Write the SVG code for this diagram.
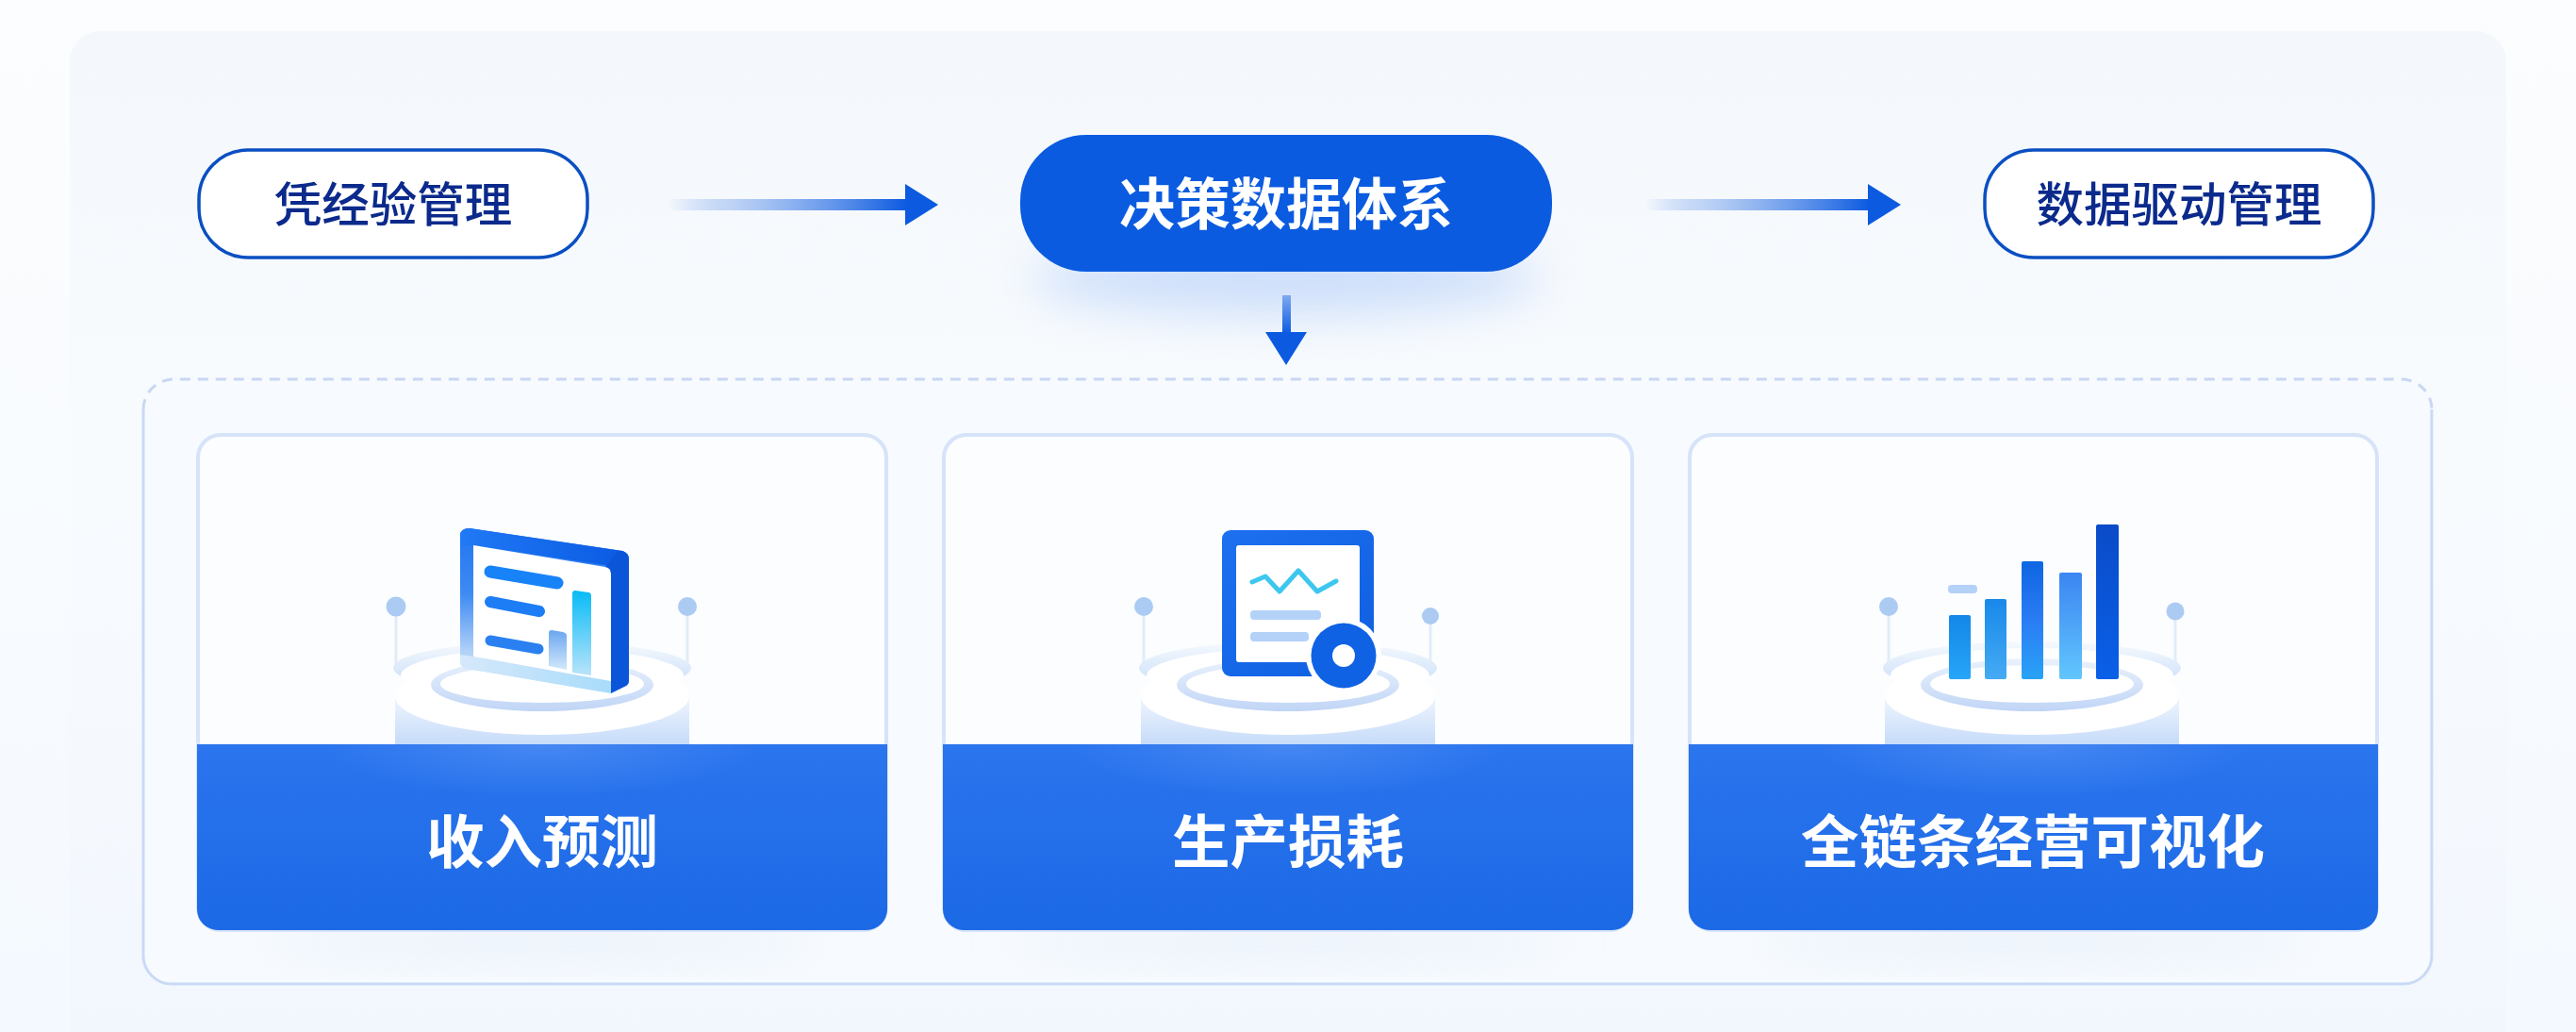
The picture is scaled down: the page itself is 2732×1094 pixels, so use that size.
<svg xmlns="http://www.w3.org/2000/svg" xmlns:xlink="http://www.w3.org/1999/xlink" width="2732" height="1094" viewBox="0 0 2732 1094">
<style>
text{font-family:"Noto Sans CJK SC","Noto Sans",sans-serif;text-anchor:middle}
.pill{fill:#fff;stroke:#0a4fc2;stroke-width:3.5}
.pillt{font-size:50.5px;font-weight:500;fill:#0b2a8c}
.title{font-size:61.5px;font-weight:700;fill:#fff}
.card{fill:#fbfdff;stroke:#d6e3f9;stroke-width:4}
.stem{stroke:#e2ecf9;stroke-width:3;fill:none}
.pin{fill:#abcbf3}
.wh{fill:#fff}
.hl{fill:url(#hi)}
</style>
<defs>
<linearGradient id="bg" x1="0" y1="0" x2="0" y2="1"><stop offset="0" stop-color="#fcfdfe"/><stop offset="1" stop-color="#f4f9ff"/></linearGradient>
<linearGradient id="panel" x1="0" y1="0" x2="0" y2="1"><stop offset="0" stop-color="#f4f7fb"/><stop offset=".4" stop-color="#f8fbfe"/><stop offset="1" stop-color="#f2f7fe"/></linearGradient>
<linearGradient id="arrowH" x1="0" y1="0" x2="1" y2="0"><stop offset="0" stop-color="#0b5ae0" stop-opacity="0"/><stop offset=".25" stop-color="#5d92ea" stop-opacity=".35"/><stop offset="1" stop-color="#0b5ae0"/></linearGradient>
<linearGradient id="arrowV" x1="0" y1="0" x2="0" y2="1"><stop offset="0" stop-color="#7fa9f0"/><stop offset="1" stop-color="#0b5ae0"/></linearGradient>
<linearGradient id="ring" x1="0" y1="0" x2="0" y2="1"><stop offset="0" stop-color="#f6fafe"/><stop offset="1" stop-color="#c3d9f7"/></linearGradient>
<linearGradient id="ring2" x1="0" y1="0" x2="0" y2="1"><stop offset="0" stop-color="#eaf2fc"/><stop offset="1" stop-color="#c0d5f6"/></linearGradient>
<linearGradient id="cyl" x1="0" y1="0" x2="0" y2="1"><stop offset="0" stop-color="#f0f6fe"/><stop offset="1" stop-color="#c6dbf9"/></linearGradient>
<linearGradient id="blue" x1="0" y1="0" x2="0" y2="1"><stop offset="0" stop-color="#2b75ee"/><stop offset="1" stop-color="#1c69e6"/></linearGradient>
<radialGradient id="hi" cx=".5" cy="0" r=".5"><stop offset="0" stop-color="#5b96f6" stop-opacity=".55"/><stop offset="1" stop-color="#5b96f6" stop-opacity="0"/></radialGradient>
<linearGradient id="frameV" x1="0" y1="0" x2="0" y2="1"><stop offset="0" stop-color="#1f74f2"/><stop offset=".4" stop-color="#3f8bf3"/><stop offset=".75" stop-color="#b2d2f8"/><stop offset="1" stop-color="#d6e8fb"/></linearGradient>
<linearGradient id="frameT" x1="0" y1="0" x2="1" y2="0"><stop offset="0" stop-color="#2079f5"/><stop offset="1" stop-color="#0a5ae2"/></linearGradient>
<linearGradient id="frameB" x1="0" y1="0" x2="1" y2="0"><stop offset="0" stop-color="#d6e8fb"/><stop offset="1" stop-color="#a8dcfa"/></linearGradient>
<linearGradient id="b1a" x1="0" y1="0" x2="0" y2="1"><stop offset="0" stop-color="#6aa6ef"/><stop offset="1" stop-color="#d3e8fb"/></linearGradient>
<linearGradient id="b1b" x1="0" y1="0" x2="0" y2="1"><stop offset="0" stop-color="#08bbf6"/><stop offset="1" stop-color="#b9e4fa"/></linearGradient>
<linearGradient id="doc" x1="0" y1="0" x2="1" y2="1"><stop offset="0" stop-color="#1d70f0"/><stop offset="1" stop-color="#0f5fe0"/></linearGradient>
<linearGradient id="k1" x1="0" y1="0" x2="0" y2="1"><stop offset="0" stop-color="#1487e8"/><stop offset="1" stop-color="#26a6f8"/></linearGradient>
<linearGradient id="k2" x1="0" y1="0" x2="0" y2="1"><stop offset="0" stop-color="#1888ea"/><stop offset="1" stop-color="#45abf3"/></linearGradient>
<linearGradient id="k3" x1="0" y1="0" x2="0" y2="1"><stop offset="0" stop-color="#0f66e2"/><stop offset=".5" stop-color="#2a7cf4"/><stop offset="1" stop-color="#29a3f6"/></linearGradient>
<linearGradient id="k4" x1="0" y1="0" x2="0" y2="1"><stop offset="0" stop-color="#3b85f2"/><stop offset="1" stop-color="#62c6fd"/></linearGradient>
<linearGradient id="k5" x1="0" y1="0" x2="0" y2="1"><stop offset="0" stop-color="#0a4bc8"/><stop offset="1" stop-color="#0a60e8"/></linearGradient>
<filter id="blur" x="-30%" y="-60%" width="160%" height="220%"><feGaussianBlur stdDeviation="24"/></filter>
<g id="pedestal">
<ellipse cx="0" cy="708" rx="158" ry="28" fill="url(#ring)"/>
<ellipse cx="0" cy="716" rx="150" ry="29" class="wh"/>
<rect x="-156" y="738" width="312" height="51" fill="url(#cyl)"/>
<ellipse cx="0" cy="738" rx="156" ry="41" class="wh"/>
<ellipse cx="0" cy="726" rx="118" ry="28" fill="url(#ring2)"/>
<ellipse cx="0" cy="725" rx="108" ry="20" class="wh"/>
</g>
</defs>
<rect id="background" width="2732" height="1094" fill="url(#bg)"/>
<rect id="panel-bg" x="74" y="33" width="2584" height="1100" rx="32" fill="url(#panel)"/>
<ellipse cx="1364" cy="295" rx="270" ry="40" fill="#c4d9fa" opacity=".8" filter="url(#blur)"/>

<g id="container">
<path d="M152 434V1013A30 30 0 0 0 182 1043H2549A30 30 0 0 0 2579 1013V434" fill="#f7fbff" stroke="#c9daf6" stroke-width="3"/>
<path d="M152 434A32 32 0 0 1 184 402H2547A32 32 0 0 1 2579 434" fill="#f7fbff" stroke="#c9d7f1" stroke-width="3" stroke-dasharray="11 8"/>
<ellipse cx="575" cy="1000" rx="300" ry="16" fill="#dfe8f6" opacity=".6" filter="url(#blur)"/>
<ellipse cx="1366" cy="1000" rx="300" ry="16" fill="#dfe8f6" opacity=".6" filter="url(#blur)"/>
<ellipse cx="2156" cy="1000" rx="300" ry="16" fill="#dfe8f6" opacity=".6" filter="url(#blur)"/>
</g>

<g id="connectors">
<rect x="709" y="211" width="253" height="12" fill="url(#arrowH)"/>
<path d="M960 195L995 217L960 239Z" fill="#0b5ae0"/>
<rect x="1745" y="211" width="238" height="12" fill="url(#arrowH)"/>
<path d="M1981 195L2016 217L1981 239Z" fill="#0b5ae0"/>
<rect x="1360" y="313" width="9" height="41" fill="url(#arrowV)"/>
<path d="M1342 352H1386L1364 387Z" fill="#0b5ae0"/>
</g>

<g id="node-experience">
<rect class="pill" x="211" y="159" width="412" height="114" rx="52"/>
<text class="pillt" x="417" y="235">凭经验管理</text>
</g>
<g id="node-decision">
<rect x="1082" y="143" width="564" height="145" rx="70" fill="#0b5be0"/>
<text x="1364" y="238" font-size="59" font-weight="700" fill="#fff">决策数据体系</text>
</g>
<g id="node-datadriven">
<rect class="pill" x="2105" y="159" width="412" height="114" rx="52"/>
<text class="pillt" x="2311" y="235">数据驱动管理</text>
</g>

<g id="card-revenue">
<rect class="card" x="210" y="461" width="730" height="525" rx="24"/>
<line class="stem" x1="420" y1="650" x2="420" y2="705"/><line class="stem" x1="729" y1="650" x2="729" y2="705"/>
<circle class="pin" cx="420" cy="643" r="10.5"/><circle class="pin" cx="729" cy="643" r="10"/>
<use xlink:href="#pedestal" href="#pedestal" x="575"/>
<path d="M488 568Q488 560 498 560L660 584Q667 586 667 594V722Q667 726 662 728L648 735L496 709Q488 707 488 702Z" fill="url(#frameV)"/>
<path d="M488 578V568Q488 560 498 560L660 584Q667 586 667 594V600H648L502 578Z" fill="url(#frameT)"/>
<path d="M502 696L648 722V735L496 709Q488 707 488 702V694Z" fill="url(#frameB)"/>
<path d="M502 578L642 601Q648 602 648 608V722L502 696Z" fill="#fff"/>
<path d="M648 608Q648 602 642 601L656 584L660 584Q667 586 667 594V722Q667 726 662 728L648 735Z" fill="#0a55d8"/>
<g stroke-linecap="round" fill="none">
<line x1="520" y1="606" x2="591" y2="618" stroke="#1883f8" stroke-width="13"/>
<line x1="520" y1="638" x2="572" y2="648" stroke="#1d7df5" stroke-width="12"/>
<line x1="520" y1="679" x2="571" y2="688" stroke="#2a80f0" stroke-width="11"/>
</g>
<path d="M582 671Q582 668 585 668L597 670Q601 671 601 674V710L582 706Z" fill="url(#b1a)"/>
<path d="M607 629Q607 626 610 626L624 628Q627 628 627 632V716L607 713Z" fill="url(#b1b)"/>
<path d="M209 789H941V964A22 22 0 0 1 919 986H231A22 22 0 0 1 209 964Z" fill="url(#blue)"/>
<rect class="hl" x="345" y="789" width="460" height="110"/>
<text class="title" x="575" y="915">收入预测</text>
</g>

<g id="card-loss">
<rect class="card" x="1001" y="461" width="730" height="525" rx="24"/>
<line class="stem" x1="1213" y1="650" x2="1213" y2="705"/><line class="stem" x1="1517" y1="660" x2="1517" y2="705"/>
<circle class="pin" cx="1213" cy="643" r="10"/><circle class="pin" cx="1517" cy="653" r="9"/>
<use xlink:href="#pedestal" href="#pedestal" x="1366"/>
<rect x="1296" y="562" width="161" height="155" rx="9" fill="url(#doc)"/>
<rect x="1311" y="578" width="131" height="124" rx="3" fill="#fff"/>
<path d="M1328 617L1342 611L1357 627L1377 605L1397 627L1417 616" fill="none" stroke="#3dc7ee" stroke-width="5" stroke-linejoin="round" stroke-linecap="round"/>
<rect x="1326" y="647" width="75" height="10" rx="4" fill="#b4d2f8"/>
<rect x="1326" y="670" width="62" height="10" rx="4" fill="#b4d2f8"/>
<circle cx="1425" cy="695" r="40" fill="#fff"/>
<circle cx="1425" cy="695" r="34.5" fill="#0f62e4"/>
<circle cx="1425" cy="695" r="12" fill="#fff"/>
<path d="M1000 789H1732V964A22 22 0 0 1 1710 986H1022A22 22 0 0 1 1000 964Z" fill="url(#blue)"/>
<rect class="hl" x="1136" y="789" width="460" height="110"/>
<text class="title" x="1366" y="915">生产损耗</text>
</g>

<g id="card-visual">
<rect class="card" x="1792" y="461" width="729" height="525" rx="24"/>
<line class="stem" x1="2003" y1="650" x2="2003" y2="705"/><line class="stem" x1="2307" y1="655" x2="2307" y2="705"/>
<circle class="pin" cx="2003" cy="643" r="10"/><circle class="pin" cx="2307" cy="648" r="9.5"/>
<use xlink:href="#pedestal" href="#pedestal" x="2155"/>
<rect x="2066" y="620" width="31" height="9" rx="4" fill="#b4d2f8"/>
<rect x="2067" y="652" width="23" height="68" rx="2" fill="url(#k1)"/>
<rect x="2105" y="635" width="23" height="85" rx="2" fill="url(#k2)"/>
<rect x="2144" y="595" width="23" height="125" rx="2" fill="url(#k3)"/>
<rect x="2184" y="607" width="24" height="113" rx="2" fill="url(#k4)"/>
<rect x="2223" y="556" width="24" height="164" rx="2" fill="url(#k5)"/>
<path d="M1791 789H2522V964A22 22 0 0 1 2500 986H1813A22 22 0 0 1 1791 964Z" fill="url(#blue)"/>
<rect class="hl" x="1926" y="789" width="460" height="110"/>
<text class="title" x="2156" y="915">全链条经营可视化</text>
</g>
</svg>
